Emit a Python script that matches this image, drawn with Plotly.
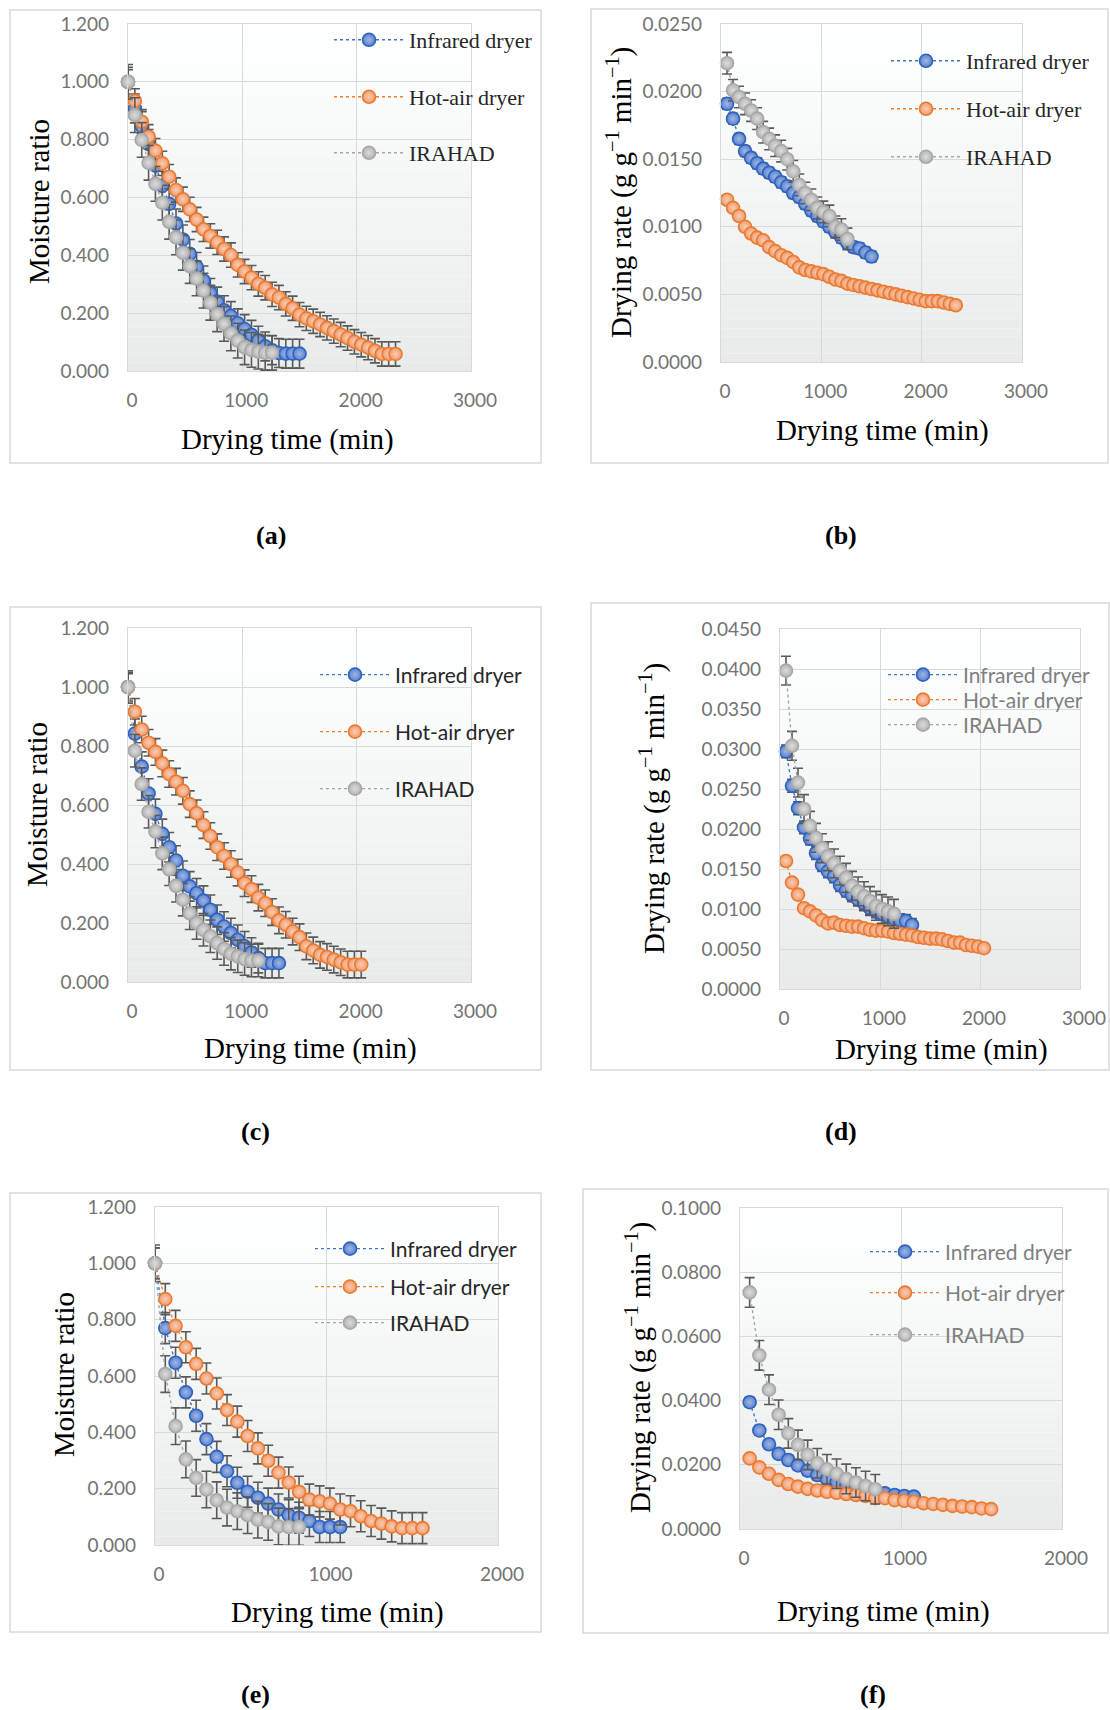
import plotly.graph_objects as go

W, H = 1110, 1710

# ---------------- data ----------------
time_mr = [0, 60, 120, 180, 240, 300, 360, 420, 480, 540, 600, 660, 720, 780, 840,
           900, 960, 1020, 1080, 1140, 1200, 1260, 1320, 1380, 1440, 1500, 1560,
           1620, 1680, 1740, 1800, 1860, 1920, 1980, 2040, 2100, 2160, 2220, 2280, 2340]
time_rate = [60, 120, 180, 240, 300, 360, 420, 480, 540, 600, 660, 720, 780, 840,
             900, 960, 1020, 1080, 1140, 1200, 1260, 1320, 1380, 1440, 1500, 1560,
             1620, 1680, 1740, 1800, 1860, 1920, 1980, 2040, 2100, 2160, 2220, 2280, 2340]

series_names = ["Infrared dryer", "Hot-air dryer", "IRAHAD"]

# (a) moisture ratio
a_ir = [1.000, 0.908, 0.847, 0.785, 0.710, 0.640, 0.578, 0.510, 0.455, 0.405,
        0.360, 0.313, 0.270, 0.240, 0.210, 0.190, 0.165, 0.145, 0.125, 0.105,
        0.085, 0.072, 0.062, 0.060, 0.060, 0.060]
a_ha = [1.000, 0.934, 0.862, 0.810, 0.762, 0.718, 0.672, 0.626, 0.594, 0.559,
        0.524, 0.490, 0.467, 0.445, 0.422, 0.401, 0.367, 0.344, 0.323, 0.301,
        0.288, 0.265, 0.254, 0.232, 0.217, 0.195, 0.182, 0.172, 0.161, 0.149,
        0.138, 0.126, 0.114, 0.101, 0.091, 0.081, 0.070, 0.059, 0.059, 0.059]
a_irahad = [1.000, 0.885, 0.799, 0.720, 0.647, 0.582, 0.516, 0.462, 0.409, 0.363,
            0.320, 0.278, 0.236, 0.196, 0.163, 0.130, 0.105, 0.082, 0.073, 0.067,
            0.063, 0.063]
# (b) drying rate
b_ir = [0.0191, 0.0180, 0.0165, 0.0156, 0.0151, 0.0147, 0.0143, 0.0140, 0.0137, 0.0133,
        0.0130, 0.0125, 0.0122, 0.0117, 0.0112, 0.0108, 0.0104, 0.0100, 0.0096, 0.0092,
        0.0088, 0.0085, 0.0084, 0.0081, 0.0078]
b_ha = [0.0120, 0.0114, 0.0108, 0.0100, 0.0095, 0.0092, 0.0090, 0.0085, 0.0082, 0.0079,
        0.0077, 0.0074, 0.0070, 0.0068, 0.0067, 0.0066, 0.0065, 0.0063, 0.0061, 0.0060,
        0.0058, 0.0057, 0.0056, 0.0055, 0.0054, 0.0053, 0.0052, 0.0051, 0.0050, 0.0049,
        0.0048, 0.0047, 0.0046, 0.0045, 0.0045, 0.0045, 0.0044, 0.0043, 0.0042]
b_irahad = [0.0221, 0.0201, 0.0196, 0.0191, 0.0186, 0.0180, 0.0170, 0.0165, 0.0160, 0.0156,
            0.0150, 0.0141, 0.0131, 0.0125, 0.0120, 0.0114, 0.0111, 0.0108, 0.0100, 0.0098,
            0.0091]
# (c) moisture ratio
c_ir = [1.000, 0.842, 0.730, 0.639, 0.570, 0.502, 0.457, 0.412, 0.360, 0.324,
        0.301, 0.276, 0.245, 0.211, 0.188, 0.166, 0.143, 0.121, 0.100, 0.081,
        0.064, 0.064, 0.064]
c_ha = [1.000, 0.916, 0.856, 0.811, 0.780, 0.741, 0.705, 0.679, 0.648, 0.603,
        0.572, 0.532, 0.495, 0.457, 0.427, 0.400, 0.371, 0.335, 0.315, 0.286,
        0.267, 0.237, 0.209, 0.194, 0.171, 0.152, 0.121, 0.107, 0.092, 0.085,
        0.076, 0.067, 0.059, 0.059, 0.059]
c_irahad = [1.000, 0.784, 0.671, 0.577, 0.510, 0.436, 0.382, 0.326, 0.279, 0.233,
            0.200, 0.177, 0.155, 0.132, 0.112, 0.096, 0.087, 0.078, 0.073, 0.073]
# (d) drying rate
d_ir = [0.0297, 0.0254, 0.0226, 0.0202, 0.0188, 0.0170, 0.0155, 0.0147, 0.0141, 0.0130,
        0.0123, 0.0117, 0.0112, 0.0107, 0.0101, 0.0097, 0.0094, 0.0091, 0.0088, 0.0086,
        0.0085, 0.0080]
d_ha = [0.0160, 0.0133, 0.0118, 0.0101, 0.0097, 0.0092, 0.0086, 0.0082, 0.0083, 0.0080,
        0.0079, 0.0078, 0.0078, 0.0076, 0.0074, 0.0073, 0.0073, 0.0072, 0.0070, 0.0069,
        0.0068, 0.0067, 0.0065, 0.0064, 0.0063, 0.0063, 0.0062, 0.0060, 0.0058, 0.0058,
        0.0055, 0.0054, 0.0053, 0.0051]
d_irahad = [0.0398, 0.0304, 0.0258, 0.0225, 0.0204, 0.0189, 0.0176, 0.0166, 0.0157, 0.0148,
            0.0139, 0.0129, 0.0122, 0.0116, 0.0110, 0.0104, 0.0100, 0.0097, 0.0094]
# (e) moisture ratio
e_ir = [1.000, 0.770, 0.647, 0.542, 0.459, 0.376, 0.313, 0.262, 0.221, 0.189,
        0.168, 0.147, 0.126, 0.106, 0.097, 0.085, 0.064, 0.064, 0.064]
e_ha = [1.000, 0.873, 0.778, 0.702, 0.643, 0.591, 0.538, 0.479, 0.438, 0.387,
        0.343, 0.299, 0.257, 0.222, 0.189, 0.161, 0.155, 0.147, 0.126, 0.120,
        0.102, 0.085, 0.076, 0.066, 0.060, 0.060, 0.060]
e_irahad = [1.000, 0.607, 0.422, 0.304, 0.238, 0.197, 0.159, 0.133, 0.120, 0.106,
            0.090, 0.082, 0.066, 0.064, 0.064]
# (f) drying rate
f_ir = [0.0395, 0.0307, 0.0264, 0.0234, 0.0215, 0.0198, 0.0182, 0.0168, 0.0155, 0.0145,
        0.0134, 0.0127, 0.0120, 0.0116, 0.0111, 0.0106, 0.0103, 0.0101]
f_ha = [0.0220, 0.0192, 0.0172, 0.0153, 0.0140, 0.0132, 0.0125, 0.0120, 0.0116, 0.0113,
        0.0109, 0.0106, 0.0103, 0.0096, 0.0096, 0.0090, 0.0088, 0.0085, 0.0080, 0.0078,
        0.0075, 0.0072, 0.0070, 0.0068, 0.0064, 0.0062]
f_irahad = [0.0737, 0.0541, 0.0434, 0.0356, 0.0298, 0.0262, 0.0231, 0.0205, 0.0186, 0.0172,
            0.0156, 0.0145, 0.0134, 0.0124]

# error bar half-widths, None = no error bar
err_a = [0.050, 0.042, 0.060]
err_b = [0.0004, None, 0.0008]
err_c = [0.050, 0.045, 0.055]
err_d = [0.0008, None, 0.0018]
err_e = [0.055, 0.055, 0.065]
err_f = [0.0015, None, 0.0046]

# ---------------- styling ----------------
SERIF = "Liberation Serif"
SANS = "Lato"
TICK_COLOR = "#737373"
GRID = "#D9D9D9"
styles = {
    "Infrared dryer": dict(line="#4472C4", fill="#5A82CE", grad="#9FB6E4", edge="#2F62BE"),
    "Hot-air dryer": dict(line="#ED7D31", fill="#F19A6E", grad="#F9CDB3", edge="#EA7A2E"),
    "IRAHAD": dict(line="#A5A5A5", fill="#B3B3B3", grad="#DCDCDC", edge="#A8A8A8"),
}

panels = [
    dict(lab="(a)", kind="mr", vals=[a_ir, a_ha, a_irahad], err=err_a,
         plot=(128, 471, 24, 371), box=(10, 541, 10, 463), xmax=3000,
         ytitle=(39, 202), xtitle=(287, 439), cap=(271, 535),
         leg=dict(x=329, ys=[40, 97, 153], font=SERIF, size=22, color="#262626")),
    dict(lab="(b)", kind="rate", vals=[b_ir, b_ha, b_irahad], err=err_b,
         plot=(721, 1022, 24, 362), box=(591, 1108, 9, 463), xmax=3000,
         ytitle=(619, 193), xtitle=(882, 430), cap=(841, 535), ymax=0.025, dtick=0.005,
         leg=dict(x=886, ys=[61, 109, 157], font=SERIF, size=22, color="#262626")),
    dict(lab="(c)", kind="mr", vals=[c_ir, c_ha, c_irahad], err=err_c,
         plot=(128, 471, 628, 982), box=(10, 541, 607, 1070), xmax=3000,
         ytitle=(37, 805), xtitle=(310, 1048), cap=(255, 1131),
         leg=dict(x=315, ys=[675, 732, 789], font=SANS, size=21, color="#262626")),
    dict(lab="(d)", kind="rate", vals=[d_ir, d_ha, d_irahad], err=err_d,
         plot=(780, 1080, 629, 989), box=(591, 1109, 603, 1070), xmax=3000,
         ytitle=(652, 809), xtitle=(941, 1049), cap=(841, 1131), ymax=0.045, dtick=0.005,
         leg=dict(x=883, ys=[675, 700, 725], font=SANS, size=21, color="#7F7F7F")),
    dict(lab="(e)", kind="mr", vals=[e_ir, e_ha, e_irahad], err=err_e,
         plot=(155, 498, 1207, 1545), box=(10, 541, 1193, 1632), xmax=2000,
         ytitle=(64, 1375), xtitle=(337, 1612), cap=(255, 1694),
         leg=dict(x=310, ys=[1249, 1287, 1323], font=SANS, size=21, color="#262626")),
    dict(lab="(f)", kind="rate", vals=[f_ir, f_ha, f_irahad], err=err_f,
         plot=(740, 1062, 1208, 1529), box=(583, 1108, 1189, 1633), xmax=2000,
         ytitle=(638, 1368), xtitle=(883, 1611), cap=(873, 1694), ymax=0.1, dtick=0.02,
         leg=dict(x=865, ys=[1252, 1293, 1335], font=SANS, size=21, color="#7F7F7F")),
]

fig = go.Figure()
layout = dict(width=W, height=H, autosize=False,
              margin=dict(l=0, r=0, t=0, b=0, pad=0, autoexpand=False),
              paper_bgcolor="white", plot_bgcolor="rgba(0,0,0,0)", showlegend=True)
shapes = []
annotations = []

def px_x(x):
    return x / W

def px_y(y):
    return 1 - y / H

leg_idx = 0
for i, p in enumerate(panels):
    n = i + 1
    xa = "x" if n == 1 else f"x{n}"
    ya = "y" if n == 1 else f"y{n}"
    x0, x1, y0, y1 = p["plot"]
    if p["kind"] == "mr":
        times = time_mr
        yrange, ydt, yfmt = [0, 1.2], 0.2, ".3f"
        ytitle = "Moisture ratio"
    else:
        times = time_rate
        yrange, ydt, yfmt = [0, p["ymax"]], p["dtick"], ".4f"
        ytitle = "Drying rate (g g<sup>\u22121</sup> min<sup>\u22121</sup>)"

    layout["xaxis" if n == 1 else f"xaxis{n}"] = dict(
        domain=[px_x(x0), px_x(x1)], anchor=ya, range=[0, p["xmax"]], dtick=1000,
        tickformat="d", showgrid=True, gridcolor=GRID, gridwidth=1.2, zeroline=False,
        showline=True, linecolor=GRID, linewidth=1.2, mirror=True, ticks="",
        automargin=False, ticklabelshift=4,
        tickfont=dict(family=SANS, size=19, color=TICK_COLOR), ticklabelstandoff=12)
    layout["yaxis" if n == 1 else f"yaxis{n}"] = dict(
        domain=[px_y(y1), px_y(y0)], anchor=xa, range=yrange, dtick=ydt,
        tickformat=yfmt, showgrid=True, gridcolor=GRID, gridwidth=1.2, zeroline=False,
        showline=True, linecolor=GRID, linewidth=1.2, mirror=True, ticks="",
        automargin=False,
        tickfont=dict(family=SANS, size=19, color=TICK_COLOR), ticklabelstandoff=14)

    # gradient plot-area background
    nb = 40
    for k in range(nb):
        f = (k + 0.5) / nb  # 0 top -> 1 bottom
        g = 255 - 22 * f
        col = f"rgb({round(g)},{round(g + 2)},{round(g + 2)})"
        shapes.append(dict(type="rect", xref=f"{xa} domain", yref=f"{ya} domain",
                           x0=0, x1=1, y0=1 - (k + 1) / nb, y1=1 - k / nb,
                           fillcolor=col, line=dict(width=0), layer="below"))
    # outer chart border
    bx0, bx1, by0, by1 = p["box"]
    shapes.append(dict(type="rect", xref="paper", yref="paper",
                       x0=px_x(bx0), x1=px_x(bx1), y0=px_y(by1), y1=px_y(by0),
                       line=dict(color=GRID, width=1.5), fillcolor="rgba(0,0,0,0)"))

    for s, name in enumerate(series_names):
        vals = p["vals"][s]
        st = styles[name]
        leg_idx += 1
        lname = "legend" if leg_idx == 1 else f"legend{leg_idx}"
        e = p["err"][s]
        err = dict(visible=False)
        if e is not None:
            err = dict(type="constant", value=e, color="#595959", thickness=1.6, width=5)
        fig.add_trace(go.Scatter(
            x=times[:len(vals)], y=vals, name=name, mode="lines+markers",
            xaxis=xa, yaxis=ya, legend=lname, cliponaxis=False,
            line=dict(color=st["line"], width=1.4, dash="dot"),
            marker=dict(size=13, color=st["fill"], line=dict(color=st["edge"], width=1.6),
                        gradient=dict(type="radial", color=st["grad"])),
            error_y=err))
        L = p["leg"]
        layout[lname] = dict(
            x=px_x(L["x"]), y=px_y(L["ys"][s]), xanchor="left", yanchor="middle",
            xref="paper", yref="paper", bgcolor="rgba(0,0,0,0)", borderwidth=0,
            itemwidth=70, font=dict(family=L["font"], size=L["size"], color=L["color"]),
            itemclick=False)

    # axis titles
    tx, ty = p["ytitle"]
    annotations.append(dict(text=ytitle, x=px_x(tx), y=px_y(ty), xref="paper", yref="paper",
                            showarrow=False, textangle=-90, xanchor="center", yanchor="middle",
                            font=dict(family=SERIF, size=29, color="#000000")))
    tx, ty = p["xtitle"]
    annotations.append(dict(text="Drying time (min)", x=px_x(tx), y=px_y(ty), xref="paper",
                            yref="paper", showarrow=False, xanchor="center", yanchor="middle",
                            font=dict(family=SERIF, size=29, color="#000000")))
    cx, cy = p["cap"]
    annotations.append(dict(text=f"<b>{p['lab']}</b>", x=px_x(cx), y=px_y(cy), xref="paper",
                            yref="paper", showarrow=False, xanchor="center", yanchor="middle",
                            font=dict(family=SERIF, size=26, color="#000000")))

layout["shapes"] = shapes
layout["annotations"] = annotations
fig.update_layout(**layout)
fig.write_html("out.html", config={"displayModeBar": False},
               post_script="document.body.style.margin='0';"
                           "document.documentElement.style.overflow='hidden';")
